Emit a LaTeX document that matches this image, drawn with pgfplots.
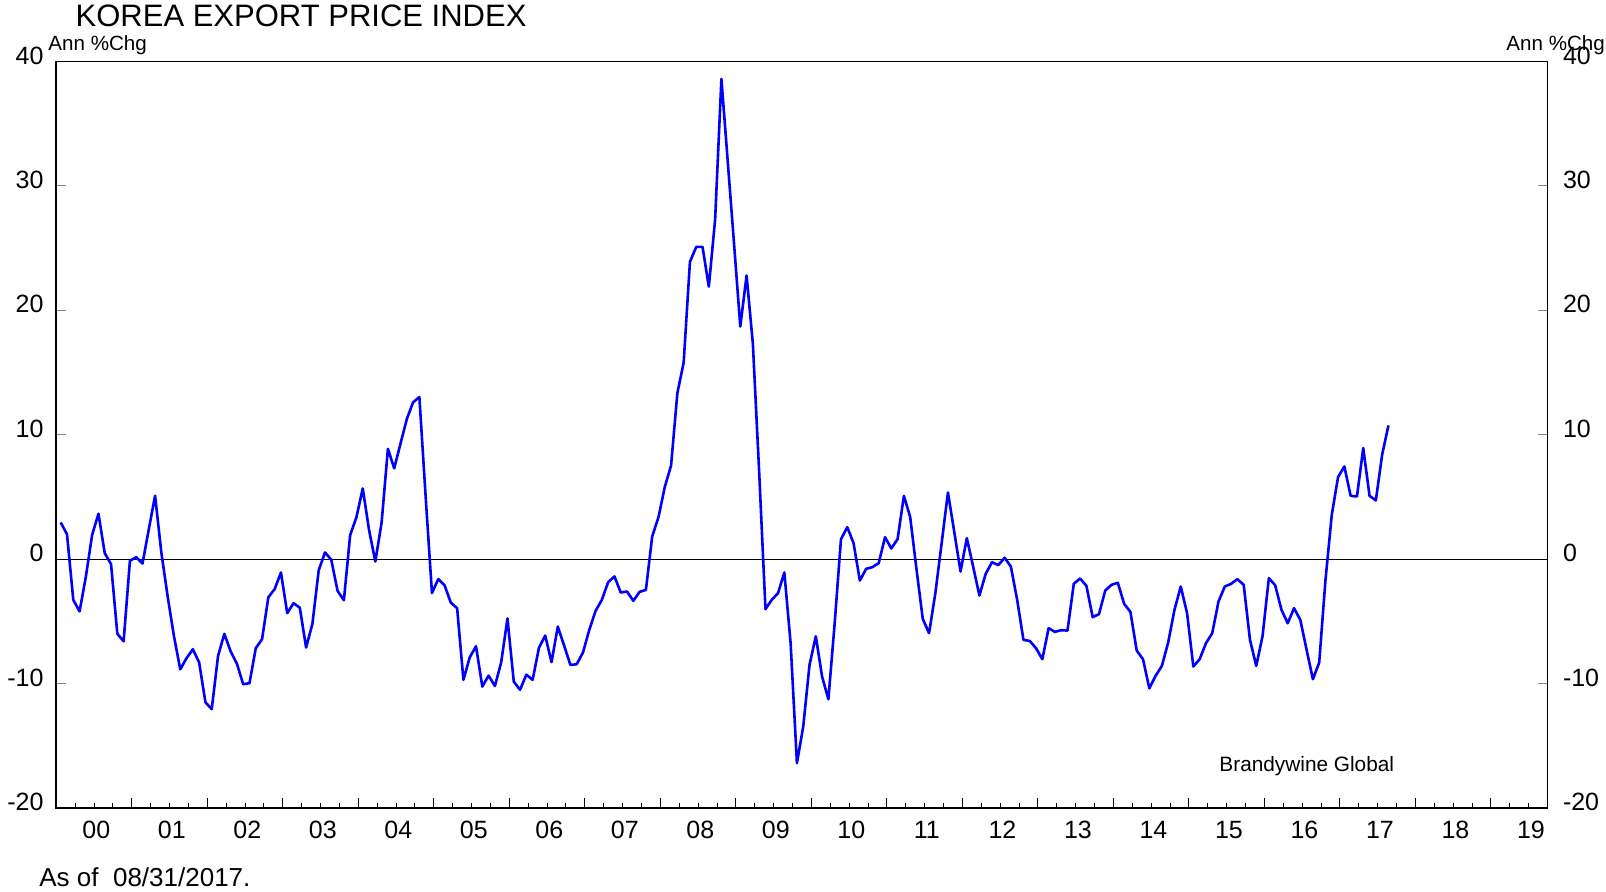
\documentclass[border=0pt]{standalone}
\usepackage{fontspec}
\setmainfont{Liberation Sans}
\usepackage{pgfplots}
\usepackage{pgfplotstable}
\pgfplotsset{compat=1.18}

% month index (0 = Jan 2000), annual % change
\pgfplotstableread{
m v
0 2.95
1 2.0
2 -3.27
3 -4.2
4 -1.4
5 1.96
6 3.65
7 0.48
8 -0.4
9 -6.0
10 -6.6
11 -0.13
12 0.16
13 -0.35
14 2.4
15 5.1
16 0.5
17 -3.0
18 -6.2
19 -8.85
20 -7.96
21 -7.24
22 -8.3
23 -11.5
24 -12.06
25 -7.8
26 -6.0
27 -7.4
28 -8.4
29 -10.05
30 -9.97
31 -7.16
32 -6.43
33 -3.06
34 -2.41
35 -1.07
36 -4.34
37 -3.54
38 -3.9
39 -7.1
40 -5.2
41 -0.9
42 0.54
43 -0.05
44 -2.55
45 -3.3
46 1.93
47 3.38
48 5.68
49 2.36
50 -0.19
51 2.95
52 8.87
53 7.3
54 9.28
55 11.26
56 12.6
57 13.03
58 5.0
59 -2.73
60 -1.6
61 -2.1
62 -3.5
63 -3.94
64 -9.7
65 -7.9
66 -7.0
67 -10.24
68 -9.36
69 -10.2
70 -8.3
71 -4.77
72 -9.84
73 -10.5
74 -9.28
75 -9.7
76 -7.13
77 -6.14
78 -8.28
79 -5.42
80 -6.94
81 -8.5
82 -8.45
83 -7.5
84 -5.68
85 -4.16
86 -3.27
87 -1.85
88 -1.39
89 -2.68
90 -2.6
91 -3.35
92 -2.63
93 -2.47
94 1.82
95 3.38
96 5.8
97 7.53
98 13.35
99 15.8
100 23.9
101 25.1
102 25.1
103 21.9
104 27.3
105 38.6
106 32.0
107 25.4
108 18.7
109 22.8
110 17.3
111 7.0
112 -4.02
113 -3.27
114 -2.73
115 -1.07
116 -6.76
117 -16.4
118 -13.46
119 -8.5
120 -6.2
121 -9.44
122 -11.26
123 -5.15
124 1.6
125 2.57
126 1.29
127 -1.72
128 -0.78
129 -0.64
130 -0.32
131 1.77
132 0.86
133 1.61
134 5.09
135 3.38
136 -0.8
137 -4.8
138 -5.95
139 -2.73
140 1.29
141 5.36
142 2.2
143 -0.99
144 1.69
145 -0.59
146 -2.92
147 -1.18
148 -0.24
149 -0.48
150 0.11
151 -0.59
152 -3.27
153 -6.49
154 -6.57
155 -7.16
156 -8.04
157 -5.55
158 -5.84
159 -5.71
160 -5.74
161 -1.98
162 -1.55
163 -2.14
164 -4.66
165 -4.42
166 -2.52
167 -2.06
168 -1.9
169 -3.59
170 -4.24
171 -7.35
172 -8.04
173 -10.38
174 -9.38
175 -8.58
176 -6.7
177 -4.07
178 -2.2
179 -4.34
180 -8.63
181 -8.04
182 -6.76
183 -5.95
184 -3.4
185 -2.2
186 -1.98
187 -1.61
188 -2.06
189 -6.49
190 -8.58
191 -6.17
192 -1.53
193 -2.09
194 -4.07
195 -5.15
196 -3.94
197 -4.88
198 -7.29
199 -9.65
200 -8.31
201 -1.66
202 3.57
203 6.6
204 7.45
205 5.09
206 5.04
207 8.93
208 5.09
209 4.72
210 8.39
211 10.75
}\exportprice

\begin{document}
\begin{tikzpicture}
\path[use as bounding box] (-28.15pt,-42pt) rectangle (774.85pt,404pt);

\begin{axis}[
    scale only axis,
    width=745.65pt, height=373.25pt,
    xmin=-0.7, xmax=236.3,
    ymin=-20, ymax=40,
    axis line style={line width=0.85pt},
    tick align=inside,
    xtick pos=left,
    ytick pos=both,
    yticklabel pos=left,
    xtick={-0.7,11.3,23.3,35.3,47.3,59.3,71.3,83.3,95.3,107.3,119.3,131.3,143.3,155.3,167.3,179.3,191.3,203.3,215.3,227.3},
    xticklabels={00,01,02,03,04,05,06,07,08,09,10,11,12,13,14,15,16,17,18,19},
    minor xtick={2.3,5.3,...,233.3},
    ytick={-20,-10,0,10,20,30,40},
    yticklabels={-20,-10,0,10,20,30,40},
    major tick length=5pt,
    minor tick length=2.5pt,
    tick style={line width=0.5pt, black},
    ytick style={gray},
    tick label style={font=\fontsize{12.5}{15}\selectfont},
    xticklabel style={anchor=center, inner sep=0pt, xshift=20pt, yshift=-10.8pt},
    yticklabel style={anchor=east, inner sep=0pt, xshift=-6.2pt, yshift=3pt},
]
\addplot[black, line width=0.5pt] coordinates {(-0.7,0) (236.3,0)};
\addplot[blue, line width=1.3pt, line join=round] table[x=m, y=v] {\exportprice};
\node[anchor=base west, inner sep=0pt, font=\fontsize{10.4}{12}\selectfont]
    at (rel axis cs:0.7797,0.0485) {Brandywine Global};
\end{axis}

% right-hand tick labels
\begin{axis}[
    scale only axis,
    width=745.65pt, height=373.25pt,
    xmin=-0.7, xmax=236.3,
    ymin=-20, ymax=40,
    axis line style={draw=none},
    tick style={draw=none},
    xtick=\empty,
    ytick={-20,-10,0,10,20,30,40},
    yticklabels={-20,-10,0,10,20,30,40},
    yticklabel pos=right,
    tick label style={font=\fontsize{12.5}{15}\selectfont},
    yticklabel style={anchor=west, inner sep=0pt, xshift=7.5pt, yshift=3pt},
]
\end{axis}

\node[anchor=west, inner sep=0pt, font=\fontsize{15.5}{18}\selectfont]
    at (9.5pt,396.3pt) {KOREA EXPORT PRICE INDEX};
\node[anchor=base west, inner sep=0pt, font=\fontsize{10.3}{12}\selectfont]
    at (-4.15pt,378.8pt) {Ann \%Chg};
\node[anchor=base east, inner sep=0pt, font=\fontsize{10.3}{12}\selectfont]
    at (774.5pt,378.8pt) {Ann \%Chg};
\node[anchor=west, inner sep=0pt, font=\fontsize{13}{15}\selectfont]
    at (-8.65pt,-34.85pt) {As of\ \ 08/31/2017.};
\end{tikzpicture}
\end{document}
